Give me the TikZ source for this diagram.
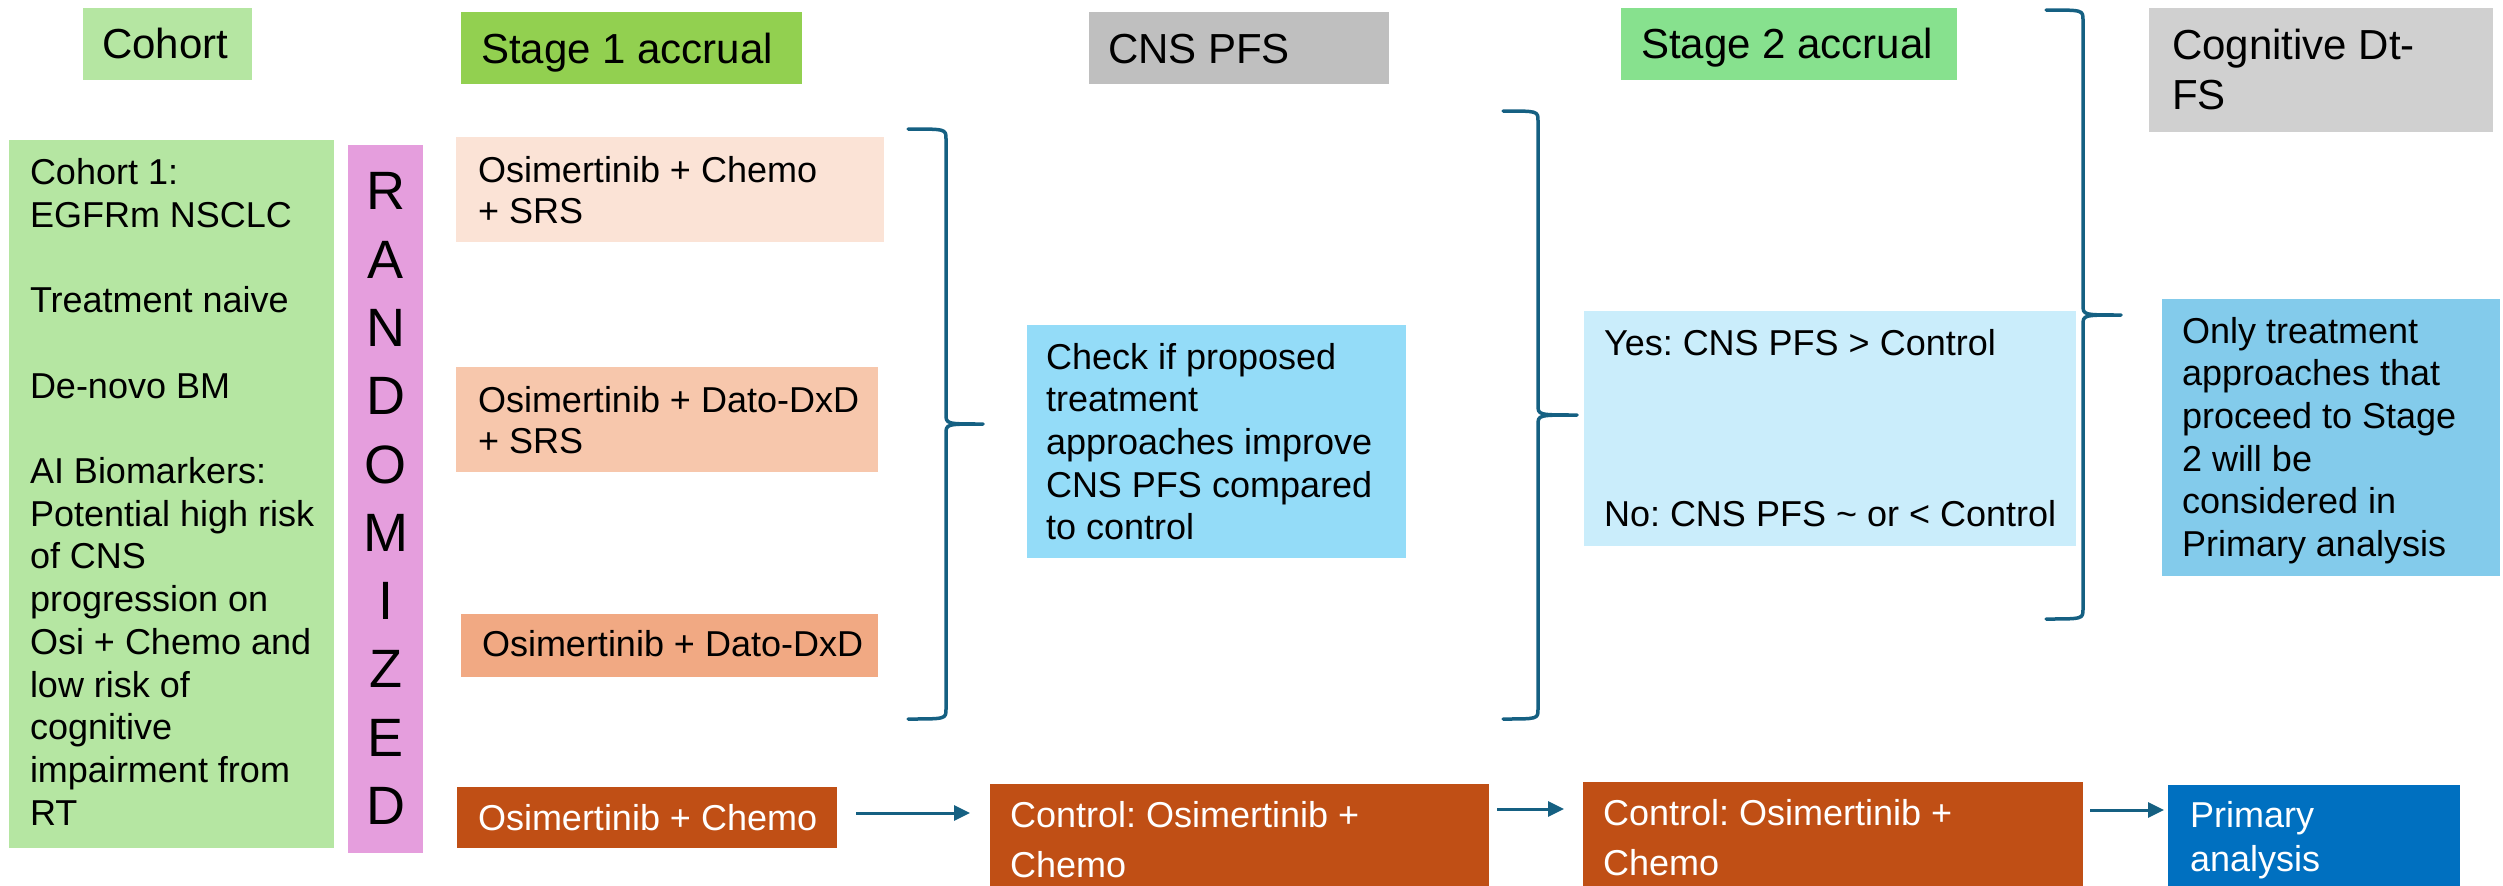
\documentclass[tikz,border=0pt]{standalone}
\usepackage{fontspec}
\setmainfont{Liberation Sans}
\usetikzlibrary{arrows.meta,calc}
\frenchspacing
\definecolor{cgreen}{HTML}{B5E6A2}
\definecolor{sonegreen}{HTML}{92D050}
\definecolor{stwogreen}{HTML}{87E18E}
\definecolor{cnsgray}{HTML}{BFBFBF}
\definecolor{coggray}{HTML}{D0D0D0}
\definecolor{randpink}{HTML}{E59EDD}
\definecolor{peachA}{HTML}{FBE3D6}
\definecolor{peachB}{HTML}{F7C7AC}
\definecolor{peachC}{HTML}{F1A983}
\definecolor{rust}{HTML}{C04F15}
\definecolor{skyA}{HTML}{94DCF8}
\definecolor{skyB}{HTML}{CAEDFB}
\definecolor{skyC}{HTML}{83CBEB}
\definecolor{primblue}{HTML}{0070C0}
\definecolor{tealline}{HTML}{156082}
\newcommand\hdrfont{\fontsize{42}{50}\selectfont}
\newcommand\bodyfont{\fontsize{36}{42.7}\selectfont}
\newcommand\armfont{\fontsize{36}{41.5}\selectfont}
\newcommand\ctlfont{\fontsize{36}{50}\selectfont}
\newcommand\primfont{\fontsize{36}{44}\selectfont}
\newcommand\randfont{\fontsize{54}{68.3}\selectfont}
\begin{document}
\frenchspacing
\begin{tikzpicture}[x=1pt,y=-1pt,
  panel/.style={anchor=north west, inner sep=0pt, outer sep=0pt, draw=none},
  boxtext/.style={anchor=north west, inner sep=0pt, outer sep=0pt, align=left},
  bracepath/.style={draw=tealline, line width=3.5pt, line cap=round, line join=round},
  flowarrow/.style={draw=tealline, line width=3pt, -{Triangle[length=16pt,width=15pt]}}]
\useasboundingbox (0,0) rectangle (2503,886);
% headers
\node[panel, fill=cgreen, minimum width=169pt, minimum height=72pt] (cohorthdr) at (83,8) {};
\node[boxtext, font=\hdrfont] (cohorthdr-t) at (102,23.1) {\strut Cohort};
\node[panel, fill=sonegreen, minimum width=341pt, minimum height=72pt] (sonehdr) at (461,12) {};
\node[boxtext, font=\hdrfont] (sonehdr-t) at (481,28.1) {\strut Stage 1 accrual};
\node[panel, fill=cnsgray, minimum width=300pt, minimum height=72pt] (cnshdr) at (1089,12) {};
\node[boxtext, font=\hdrfont] (cnshdr-t) at (1108,28.1) {\strut CNS PFS};
\node[panel, fill=stwogreen, minimum width=336pt, minimum height=72pt] (stwohdr) at (1621,8) {};
\node[boxtext, font=\hdrfont] (stwohdr-t) at (1641,23.1) {\strut Stage 2 accrual};
\node[panel, fill=coggray, minimum width=344pt, minimum height=124pt] (coghdr) at (2149,8) {};
\node[boxtext, font=\hdrfont] (coghdr-t) at (2172,24.1) {\strut Cognitive Dt-\\FS};
% cohort
\node[panel, fill=cgreen, minimum width=325pt, minimum height=708pt] (cohort) at (9,140) {};
\node[boxtext, font=\bodyfont] (cohort-t) at (30,154.7) {\strut Cohort 1:\\EGFRm NSCLC\\[42.7pt]Treatment naive\\[42.7pt]De-novo BM\\[42.7pt]AI Biomarkers:\\Potential high risk\\of CNS\\progression on\\Osi + Chemo and\\low risk of\\cognitive\\impairment from\\RT};
% randomized
\node[panel, fill=randpink, minimum width=75pt, minimum height=708pt] (rand) at (348,145) {};
\node[anchor=north, inner sep=0pt, outer sep=0pt, align=center, font=\randfont] (rand-t) at (385.5,162) {\strut R\\A\\N\\D\\O\\M\\I\\Z\\E\\D};
% arms
\node[panel, fill=peachA, minimum width=428pt, minimum height=105pt] (armA) at (456,137) {};
\node[boxtext, font=\armfont] (armA-t) at (478,153.3) {\strut Osimertinib + Chemo\\+ SRS};
\node[panel, fill=peachB, minimum width=422pt, minimum height=105pt] (armB) at (456,367) {};
\node[boxtext, font=\armfont] (armB-t) at (478,383.3) {\strut Osimertinib + Dato-DxD\\+ SRS};
\node[panel, fill=peachC, minimum width=417pt, minimum height=63pt] (armC) at (461,614) {};
\node[boxtext, font=\bodyfont] (armC-t) at (482,626.7) {\strut Osimertinib + Dato-DxD};
\node[panel, fill=rust, minimum width=380pt, minimum height=61pt] (armD) at (457,787) {};
\node[boxtext, font=\bodyfont, text=white] (armD-t) at (478,800.7) {\strut Osimertinib + Chemo};
% middle
\node[panel, fill=skyA, minimum width=379pt, minimum height=233pt] (check) at (1027,325) {};
\node[boxtext, font=\bodyfont] (check-t) at (1046,339.2) {\strut Check if proposed\\treatment\\approaches improve\\CNS PFS compared\\to control};
\node[panel, fill=skyB, minimum width=492pt, minimum height=235pt] (yesno) at (1584,311) {};
\node[boxtext, font=\bodyfont] (yesno-t) at (1604,325.9) {\strut Yes: CNS PFS > Control\\[128.3pt]No: CNS PFS \textasciitilde{} or < Control};
\node[panel, fill=skyC, minimum width=338pt, minimum height=277pt] (only) at (2162,299) {};
\node[boxtext, font=\bodyfont] (only-t) at (2182,313.2) {\strut Only treatment\\approaches that\\proceed to Stage\\2 will be\\considered in\\Primary analysis};
% bottom row
\node[panel, fill=rust, minimum width=499pt, minimum height=102pt] (ctlA) at (990,784) {};
\node[boxtext, font=\ctlfont, text=white] (ctlA-t) at (1010,792.8) {\strut Control: Osimertinib +\\Chemo};
\node[panel, fill=rust, minimum width=500pt, minimum height=104pt] (ctlB) at (1583,782) {};
\node[boxtext, font=\ctlfont, text=white] (ctlB-t) at (1603,790.8) {\strut Control: Osimertinib +\\Chemo};
\node[panel, fill=primblue, minimum width=292pt, minimum height=101pt] (prim) at (2168,785) {};
\node[boxtext, font=\primfont, text=white] (prim-t) at (2190,797) {\strut Primary\\analysis};
% arrows
\draw[flowarrow] ($(armD.north east)+(19,26)$) -- ($(ctlA.north west)+(-20,29)$);
\draw[flowarrow] ($(ctlA.north east)+(8,25)$) -- ($(ctlB.north west)+(-19,27)$);
\draw[flowarrow] ($(ctlB.north east)+(7,28)$) -- ($(prim.north west)+(-4,25)$);
% braces
\draw[bracepath] (908,129) .. controls (946,129) and (946,129) .. (946,139) -- (946,414) .. controls (946,424) and (946,424) .. (983,424) .. controls (946,424) and (946,424) .. (946,434) -- (946,709) .. controls (946,719) and (946,719) .. (908,719);
\draw[bracepath] (1503,111) .. controls (1538,111) and (1538,111) .. (1538,121) -- (1538,405) .. controls (1538,415) and (1538,415) .. (1577,415) .. controls (1538,415) and (1538,415) .. (1538,425) -- (1538,709) .. controls (1538,719) and (1538,719) .. (1503,719);
\draw[bracepath] (2046,10) .. controls (2083,10) and (2083,10) .. (2083,20) -- (2083,305) .. controls (2083,315) and (2083,315) .. (2121,315) .. controls (2083,315) and (2083,315) .. (2083,325) -- (2083,609) .. controls (2083,619) and (2083,619) .. (2046,619);
\end{tikzpicture}
\end{document}
